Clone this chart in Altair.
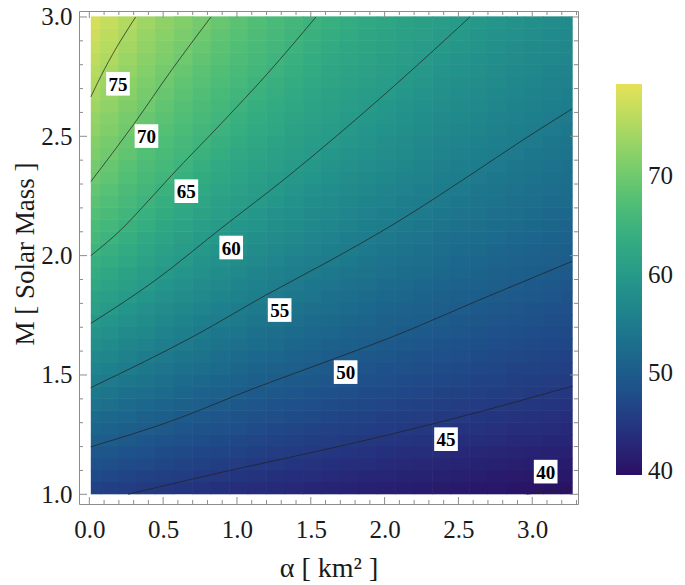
import altair as alt
import pandas as pd

# ---------------- data ----------------
# column edges of the colour field (alpha, km^2) and row edges (M, solar masses)
ALPHA_EDGES = [0.01, 0.0725, 0.1975, 0.3225, 0.4475, 0.5725, 0.6975, 0.8225, 0.9475, 1.0725,
               1.1975, 1.3225, 1.4475, 1.5725, 1.6975, 1.8225, 1.9475, 2.0725, 2.1975, 2.3225,
               2.4475, 2.5725, 2.6975, 2.8225, 2.9475, 3.0725, 3.1975, 3.27]
M_EDGES = [1.00, 1.05, 1.10, 1.15, 1.20, 1.25, 1.30, 1.35, 1.40, 1.45, 1.50, 1.55, 1.60, 1.65,
           1.70, 1.75, 1.80, 1.85, 1.90, 1.95, 2.00, 2.05, 2.10, 2.15, 2.20, 2.25, 2.30, 2.35,
           2.40, 2.45, 2.50, 2.55, 2.60, 2.65, 2.70, 2.75, 2.80, 2.85, 2.90, 2.95, 3.00]

# field value in each alpha column, from M = 1.0 (bottom) to M = 3.0 (top)
Z_A0040 = [46.2, 47.3, 48.3, 49.4, 50.4, 51.4, 52.4, 53.4, 54.4, 55.3, 56.3, 57.2, 58.1, 59.0, 59.9, 60.8, 61.6, 62.5, 63.4, 64.2,
           65.1, 65.9, 66.6, 67.4, 68.2, 69.0, 69.8, 70.5, 71.2, 71.8, 72.5, 73.2, 73.9, 74.6, 75.2, 75.8, 76.4, 77.0, 77.6, 78.2]
Z_A0135 = [45.9, 46.9, 48.0, 49.0, 50.0, 51.0, 51.9, 52.9, 53.9, 54.8, 55.7, 56.6, 57.5, 58.4, 59.2, 60.1, 60.9, 61.7, 62.5, 63.4,
           64.2, 65.0, 65.7, 66.5, 67.2, 67.9, 68.7, 69.4, 70.1, 70.7, 71.4, 72.0, 72.7, 73.3, 73.9, 74.6, 75.2, 75.8, 76.3, 76.9]
Z_A0260 = [45.6, 46.5, 47.5, 48.5, 49.5, 50.4, 51.4, 52.3, 53.2, 54.1, 55.0, 55.9, 56.7, 57.5, 58.4, 59.2, 60.0, 60.8, 61.6, 62.3,
           63.1, 63.9, 64.6, 65.4, 66.0, 66.7, 67.4, 68.1, 68.7, 69.4, 70.1, 70.7, 71.3, 71.9, 72.4, 73.0, 73.6, 74.2, 74.8, 75.4]
Z_A0385 = [45.2, 46.1, 47.1, 48.1, 49.0, 50.0, 50.8, 51.7, 52.6, 53.5, 54.4, 55.2, 56.0, 56.8, 57.6, 58.4, 59.2, 60.0, 60.7, 61.4,
           62.1, 62.8, 63.6, 64.3, 65.0, 65.6, 66.3, 66.9, 67.5, 68.2, 68.8, 69.4, 70.1, 70.6, 71.2, 71.7, 72.2, 72.8, 73.3, 73.9]
Z_A0510 = [44.9, 45.8, 46.7, 47.6, 48.5, 49.5, 50.4, 51.2, 52.1, 52.9, 53.7, 54.6, 55.4, 56.1, 56.9, 57.6, 58.4, 59.1, 59.9, 60.6,
           61.2, 61.9, 62.6, 63.3, 63.9, 64.6, 65.3, 65.9, 66.4, 67.0, 67.6, 68.2, 68.8, 69.4, 70.0, 70.5, 71.1, 71.6, 72.1, 72.6]
Z_A0635 = [44.5, 45.5, 46.3, 47.2, 48.1, 49.0, 49.9, 50.7, 51.5, 52.3, 53.1, 54.0, 54.8, 55.5, 56.2, 56.9, 57.6, 58.4, 59.1, 59.8,
           60.4, 61.1, 61.7, 62.3, 63.0, 63.6, 64.3, 64.9, 65.5, 66.0, 66.6, 67.2, 67.7, 68.3, 68.8, 69.4, 70.0, 70.5, 71.0, 71.5]
Z_A0760 = [44.2, 45.1, 46.0, 46.8, 47.7, 48.6, 49.4, 50.3, 51.0, 51.8, 52.6, 53.4, 54.2, 54.9, 55.6, 56.3, 57.0, 57.6, 58.3, 59.0,
           59.7, 60.3, 60.9, 61.5, 62.1, 62.7, 63.3, 63.9, 64.5, 65.1, 65.6, 66.2, 66.7, 67.2, 67.8, 68.3, 68.8, 69.4, 69.9, 70.4]
Z_A0885 = [43.9, 44.8, 45.7, 46.5, 47.3, 48.2, 49.0, 49.8, 50.6, 51.3, 52.1, 52.8, 53.6, 54.3, 55.1, 55.7, 56.4, 57.0, 57.6, 58.3,
           58.9, 59.6, 60.2, 60.8, 61.3, 61.9, 62.5, 63.0, 63.6, 64.2, 64.7, 65.3, 65.8, 66.3, 66.8, 67.3, 67.8, 68.3, 68.8, 69.3]
Z_A1010 = [43.6, 44.5, 45.4, 46.2, 47.0, 47.8, 48.6, 49.4, 50.2, 50.9, 51.6, 52.3, 53.0, 53.8, 54.5, 55.2, 55.8, 56.4, 57.0, 57.6,
           58.3, 58.9, 59.5, 60.1, 60.6, 61.2, 61.7, 62.2, 62.8, 63.3, 63.8, 64.4, 64.9, 65.4, 65.9, 66.4, 66.9, 67.3, 67.8, 68.3]
Z_A1135 = [43.3, 44.2, 45.1, 45.9, 46.6, 47.4, 48.2, 48.9, 49.7, 50.4, 51.1, 51.8, 52.5, 53.2, 53.9, 54.6, 55.3, 55.8, 56.4, 57.0,
           57.6, 58.2, 58.8, 59.4, 60.0, 60.5, 61.0, 61.5, 62.0, 62.5, 63.0, 63.5, 64.0, 64.5, 65.0, 65.5, 65.9, 66.4, 66.9, 67.3]
Z_A1260 = [43.1, 43.9, 44.8, 45.5, 46.3, 47.0, 47.8, 48.6, 49.3, 50.1, 50.7, 51.4, 52.1, 52.7, 53.4, 54.1, 54.7, 55.3, 55.9, 56.5,
           57.0, 57.6, 58.1, 58.7, 59.3, 59.8, 60.3, 60.8, 61.3, 61.8, 62.3, 62.7, 63.2, 63.7, 64.2, 64.7, 65.1, 65.6, 66.0, 66.4]
Z_A1385 = [42.8, 43.6, 44.5, 45.3, 46.0, 46.7, 47.4, 48.2, 48.9, 49.6, 50.3, 51.0, 51.6, 52.2, 52.9, 53.5, 54.2, 54.8, 55.4, 55.9,
           56.5, 57.0, 57.6, 58.1, 58.6, 59.2, 59.7, 60.2, 60.7, 61.1, 61.6, 62.0, 62.5, 62.9, 63.4, 63.9, 64.3, 64.8, 65.2, 65.6]
Z_A1510 = [42.6, 43.4, 44.2, 45.0, 45.7, 46.4, 47.1, 47.8, 48.5, 49.2, 49.9, 50.6, 51.2, 51.8, 52.4, 53.0, 53.7, 54.3, 54.9, 55.4,
           56.0, 56.5, 57.0, 57.5, 58.0, 58.5, 59.1, 59.6, 60.1, 60.5, 60.9, 61.4, 61.8, 62.2, 62.7, 63.1, 63.5, 64.0, 64.4, 64.8]
Z_A1635 = [42.3, 43.1, 43.9, 44.7, 45.4, 46.1, 46.8, 47.5, 48.2, 48.9, 49.5, 50.2, 50.8, 51.4, 52.0, 52.6, 53.2, 53.8, 54.4, 55.0,
           55.5, 56.0, 56.5, 57.0, 57.5, 58.0, 58.5, 59.0, 59.5, 60.0, 60.4, 60.8, 61.2, 61.6, 62.0, 62.4, 62.8, 63.2, 63.7, 64.1]
Z_A1760 = [42.1, 42.9, 43.6, 44.4, 45.2, 45.8, 46.5, 47.2, 47.8, 48.5, 49.2, 49.8, 50.4, 51.0, 51.6, 52.1, 52.7, 53.3, 53.9, 54.5,
           55.0, 55.5, 56.0, 56.5, 56.9, 57.4, 57.9, 58.4, 58.9, 59.3, 59.8, 60.2, 60.6, 61.0, 61.4, 61.8, 62.2, 62.6, 63.0, 63.4]
Z_A1885 = [41.9, 42.6, 43.4, 44.1, 44.9, 45.6, 46.2, 46.9, 47.5, 48.1, 48.8, 49.4, 50.1, 50.6, 51.2, 51.7, 52.3, 52.9, 53.4, 54.0,
           54.5, 55.1, 55.5, 56.0, 56.4, 56.9, 57.4, 57.8, 58.3, 58.8, 59.2, 59.7, 60.1, 60.5, 60.9, 61.3, 61.7, 62.0, 62.4, 62.8]
Z_A2010 = [41.7, 42.4, 43.1, 43.9, 44.6, 45.3, 45.9, 46.6, 47.2, 47.8, 48.4, 49.1, 49.7, 50.3, 50.8, 51.3, 51.9, 52.4, 53.0, 53.5,
           54.0, 54.6, 55.1, 55.5, 56.0, 56.4, 56.9, 57.3, 57.8, 58.2, 58.6, 59.1, 59.5, 60.0, 60.4, 60.7, 61.1, 61.5, 61.8, 62.2]
Z_A2135 = [41.5, 42.2, 42.9, 43.6, 44.4, 45.1, 45.7, 46.3, 46.9, 47.5, 48.1, 48.7, 49.3, 49.9, 50.5, 51.0, 51.5, 52.0, 52.5, 53.1,
           53.6, 54.1, 54.6, 55.1, 55.5, 56.0, 56.4, 56.8, 57.3, 57.7, 58.1, 58.5, 59.0, 59.4, 59.8, 60.2, 60.6, 60.9, 61.3, 61.6]
Z_A2260 = [41.3, 42.0, 42.7, 43.4, 44.1, 44.8, 45.4, 46.0, 46.6, 47.2, 47.8, 48.4, 49.0, 49.6, 50.1, 50.6, 51.1, 51.6, 52.2, 52.7,
           53.2, 53.7, 54.2, 54.7, 55.1, 55.6, 56.0, 56.4, 56.8, 57.2, 57.6, 58.0, 58.4, 58.9, 59.3, 59.7, 60.1, 60.4, 60.8, 61.1]
Z_A2385 = [41.1, 41.8, 42.5, 43.2, 43.9, 44.6, 45.2, 45.8, 46.4, 46.9, 47.5, 48.1, 48.6, 49.2, 49.8, 50.3, 50.8, 51.3, 51.8, 52.3,
           52.7, 53.2, 53.7, 54.2, 54.7, 55.2, 55.5, 55.9, 56.3, 56.7, 57.1, 57.5, 57.9, 58.3, 58.7, 59.1, 59.5, 59.9, 60.3, 60.6]
Z_A2510 = [40.9, 41.6, 42.3, 42.9, 43.6, 44.3, 45.0, 45.5, 46.1, 46.7, 47.2, 47.8, 48.3, 48.9, 49.4, 50.0, 50.5, 50.9, 51.4, 51.9,
           52.4, 52.8, 53.3, 53.8, 54.3, 54.7, 55.2, 55.5, 55.9, 56.3, 56.7, 57.1, 57.5, 57.8, 58.2, 58.6, 59.0, 59.4, 59.8, 60.1]
Z_A2635 = [40.7, 41.4, 42.1, 42.7, 43.4, 44.1, 44.7, 45.3, 45.9, 46.4, 46.9, 47.5, 48.0, 48.6, 49.1, 49.7, 50.2, 50.6, 51.1, 51.5,
           52.0, 52.5, 52.9, 53.4, 53.8, 54.3, 54.7, 55.2, 55.5, 55.9, 56.3, 56.6, 57.0, 57.4, 57.8, 58.1, 58.5, 58.9, 59.2, 59.6]
Z_A2760 = [40.6, 41.2, 41.9, 42.5, 43.2, 43.8, 44.5, 45.1, 45.6, 46.2, 46.7, 47.2, 47.7, 48.3, 48.8, 49.3, 49.9, 50.3, 50.8, 51.2,
           51.6, 52.1, 52.5, 53.0, 53.4, 53.9, 54.3, 54.8, 55.2, 55.5, 55.9, 56.2, 56.6, 56.9, 57.3, 57.7, 58.0, 58.4, 58.7, 59.1]
Z_A2885 = [40.4, 41.0, 41.7, 42.3, 43.0, 43.6, 44.2, 44.9, 45.4, 45.9, 46.4, 47.0, 47.5, 48.0, 48.5, 49.0, 49.5, 50.0, 50.5, 50.9,
           51.3, 51.7, 52.2, 52.6, 53.0, 53.5, 53.9, 54.3, 54.8, 55.2, 55.5, 55.8, 56.2, 56.5, 56.9, 57.2, 57.6, 57.9, 58.3, 58.6]
Z_A3010 = [40.3, 40.9, 41.5, 42.1, 42.8, 43.4, 44.0, 44.6, 45.2, 45.7, 46.2, 46.7, 47.2, 47.7, 48.2, 48.7, 49.2, 49.7, 50.2, 50.6,
           51.0, 51.4, 51.8, 52.3, 52.7, 53.1, 53.5, 53.9, 54.3, 54.8, 55.1, 55.5, 55.8, 56.2, 56.5, 56.8, 57.2, 57.5, 57.8, 58.2]
Z_A3135 = [40.1, 40.7, 41.3, 41.9, 42.6, 43.2, 43.8, 44.4, 45.0, 45.5, 46.0, 46.5, 46.9, 47.4, 47.9, 48.4, 48.9, 49.4, 49.9, 50.3,
           50.7, 51.1, 51.5, 51.9, 52.3, 52.7, 53.1, 53.5, 53.9, 54.3, 54.8, 55.1, 55.5, 55.8, 56.1, 56.4, 56.8, 57.1, 57.4, 57.8]
Z_A3235 = [40.0, 40.6, 41.2, 41.8, 42.4, 43.0, 43.6, 44.2, 44.8, 45.3, 45.8, 46.3, 46.8, 47.2, 47.7, 48.2, 48.7, 49.1, 49.6, 50.1,
           50.5, 50.9, 51.3, 51.7, 52.1, 52.5, 52.8, 53.2, 53.6, 54.0, 54.4, 54.8, 55.2, 55.5, 55.8, 56.1, 56.5, 56.8, 57.1, 57.4]
Z_COLUMNS = [Z_A0040, Z_A0135, Z_A0260, Z_A0385, Z_A0510, Z_A0635, Z_A0760, Z_A0885, Z_A1010,
             Z_A1135, Z_A1260, Z_A1385, Z_A1510, Z_A1635, Z_A1760, Z_A1885, Z_A2010, Z_A2135,
             Z_A2260, Z_A2385, Z_A2510, Z_A2635, Z_A2760, Z_A2885, Z_A3010, Z_A3135, Z_A3235]
Z_RANGE = [39.6, 79.4]          # range shown by the colour bar

# contour lines: level -> points (alpha, M)
CONTOUR_75 = [(0.01, 2.665), (0.104, 2.783), (0.314, 3.0)]
CONTOUR_70 = [(0.01, 2.31), (0.30, 2.55), (0.56, 2.78), (0.824, 3.0)]
CONTOUR_65 = [(0.01, 2.0), (0.217, 2.11), (0.366, 2.207), (0.555, 2.335), (0.894, 2.554), (1.21, 2.765), (1.535, 3.0)]
CONTOUR_60 = [(0.01, 1.716), (0.443, 1.895), (0.894, 2.115), (1.345, 2.332), (1.63, 2.478), (2.081, 2.72), (2.578, 3.0)]
CONTOUR_55 = [(0.01, 1.447), (0.736, 1.672), (1.188, 1.832), (1.63, 1.979), (2.081, 2.139), (2.578, 2.337), (2.938, 2.485), (3.27, 2.615)]
CONTOUR_50 = [(0.01, 1.199), (0.555, 1.307), (1.12, 1.445), (1.65, 1.566), (2.058, 1.661), (2.645, 1.815), (3.27, 1.976)]
CONTOUR_45 = [(0.262, 1.0), (0.894, 1.092), (1.63, 1.192), (2.442, 1.313), (3.27, 1.453)]
CONTOUR_40 = [(2.961, 1.0), (3.27, 1.028)]
CONTOURS = {75: CONTOUR_75, 70: CONTOUR_70, 65: CONTOUR_65, 60: CONTOUR_60,
            55: CONTOUR_55, 50: CONTOUR_50, 45: CONTOUR_45, 40: CONTOUR_40}

# contour labels
LABEL_TEXT = ["75", "70", "65", "60", "55", "50", "45", "40"]
LABEL_ALPHA = [0.194, 0.387, 0.657, 0.961, 1.289, 1.736, 2.416, 3.091]
LABEL_M = [2.720, 2.501, 2.270, 2.034, 1.772, 1.512, 1.231, 1.095]

# frame ticks
X_MAJOR = [0.0, 0.5, 1.0, 1.5, 2.0, 2.5, 3.0]
X_MINOR = [0.1, 0.2, 0.3, 0.4, 0.6, 0.7, 0.8, 0.9, 1.1, 1.2, 1.3, 1.4, 1.6, 1.7, 1.8, 1.9,
           2.1, 2.2, 2.3, 2.4, 2.6, 2.7, 2.8, 2.9, 3.1, 3.2, 3.3]
Y_MAJOR = [1.0, 1.5, 2.0, 2.5, 3.0]
Y_MINOR = [1.1, 1.2, 1.3, 1.4, 1.6, 1.7, 1.8, 1.9, 2.1, 2.2, 2.3, 2.4, 2.6, 2.7, 2.8, 2.9]
LEGEND_VALUES = [40, 50, 60, 70]

# ---------------- styling ----------------
COLOR_RANGE = ["#2a0f63", "#262e7c", "#1f4c89", "#1c668c", "#1e7f8c", "#25978a",
               "#33ac81", "#52bf76", "#80ce6a", "#b2da60", "#e6e158"]
SERIF = "Liberation Serif"
W, H = 499, 493
FRAME = "#8c8c8c"
TEXT = "#1a1a1a"

# ---------------- tables ----------------
cells = []
for i, col in enumerate(Z_COLUMNS):
    for j, z in enumerate(col):
        cells.append({"a0": ALPHA_EDGES[i], "a1": ALPHA_EDGES[i + 1],
                      "m0": M_EDGES[j], "m1": M_EDGES[j + 1], "z": z})
cells = pd.DataFrame(cells)

lines = pd.DataFrame([{"level": lev, "i": k, "a": a, "m": m}
                      for lev, pts in CONTOURS.items() for k, (a, m) in enumerate(pts)])
labels = pd.DataFrame({"t": LABEL_TEXT, "a": LABEL_ALPHA, "m": LABEL_M})

xs = alt.Scale(domain=[-0.07, 3.31], nice=False, zero=False)
ys = alt.Scale(domain=[0.9594, 3.025], nice=False, zero=False)
cs = alt.Scale(domain=Z_RANGE, range=COLOR_RANGE, interpolate="rgb", nice=False, zero=False)

AX_X = alt.Axis(values=X_MAJOR, format=".1f", title="α  [ km² ]",
                titleX=W / 2, titleY=72, titleBaseline="alphabetic", labelPadding=13)
AX_Y = alt.Axis(values=Y_MAJOR, format=".1f", title="M  [ Solar  Mass ]",
                titleX=-46, titleY=H / 2 - 4, titleBaseline="alphabetic", titleFontSize=27,
                labelPadding=7)


def X(f):
    return alt.X(f, scale=xs, axis=AX_X)


def Y(f):
    return alt.Y(f, scale=ys, axis=AX_Y)


field = alt.Chart(cells).mark_rect(x2Offset=0.6, y2Offset=-0.6).encode(
    x=X("a0:Q"), x2="a1:Q",
    y=Y("m0:Q"), y2="m1:Q",
    color=alt.Color("z:Q", scale=cs,
                    legend=alt.Legend(type="gradient", title=None, orient="none",
                                      legendX=537, legendY=73, direction="vertical",
                                      gradientLength=391, gradientThickness=26,
                                      gradientStrokeWidth=0, values=LEGEND_VALUES,
                                      labelOffset=6, labelFont=SERIF, labelFontSize=25,
                                      labelColor=TEXT, labelBaseline="middle",
                                      padding=0, offset=0)),
)

contour = alt.Chart(lines).mark_line(color="#222222", strokeWidth=0.9, opacity=0.8,
                                     interpolate="monotone").encode(
    x=X("a:Q"), y=Y("m:Q"), detail="level:N", order="i:Q",
)

boxes = alt.Chart(labels).mark_square(size=560, color="white", opacity=1).encode(
    x=X("a:Q"), y=Y("m:Q"),
)
texts = alt.Chart(labels).mark_text(font=SERIF, fontWeight="bold", fontSize=19,
                                    color="black", baseline="middle", dy=1).encode(
    x=X("a:Q"), y=Y("m:Q"), text="t:N",
)


def xticks(vals, length):
    d = pd.DataFrame({"v": vals})
    bottom = alt.Chart(d).mark_rule(color=FRAME, strokeWidth=1).encode(
        x=X("v:Q"), y=alt.value(H), y2=alt.value(H - length))
    top = alt.Chart(d).mark_rule(color=FRAME, strokeWidth=1).encode(
        x=X("v:Q"), y=alt.value(0), y2=alt.value(length))
    return [bottom, top]


def yticks(vals, length):
    d = pd.DataFrame({"v": vals})
    left = alt.Chart(d).mark_rule(color=FRAME, strokeWidth=1).encode(
        y=Y("v:Q"), x=alt.value(0), x2=alt.value(length))
    right = alt.Chart(d).mark_rule(color=FRAME, strokeWidth=1).encode(
        y=Y("v:Q"), x=alt.value(W), x2=alt.value(W - length))
    return [left, right]


tick_layers = xticks(X_MAJOR, 7) + xticks(X_MINOR, 4) + yticks(Y_MAJOR, 8) + yticks(Y_MINOR, 4)

chart = alt.layer(field, contour, boxes, texts, *tick_layers).properties(
    width=W, height=H,
    autosize=alt.AutoSizeParams(type="none"),
    padding={"left": 71, "top": 3, "right": 99, "bottom": 81},
).configure_view(
    stroke=FRAME, strokeWidth=1
).configure_axis(
    ticks=False, tickSize=0, domain=False, grid=False,
    labelFont=SERIF, labelFontSize=25, labelColor=TEXT,
    labelFlush=False, labelOverlap=False,
    titleFont=SERIF, titleFontSize=28, titleFontWeight="normal", titleColor=TEXT,
)

chart.save("out.html", embed_options={"renderer": "svg", "actions": False})
